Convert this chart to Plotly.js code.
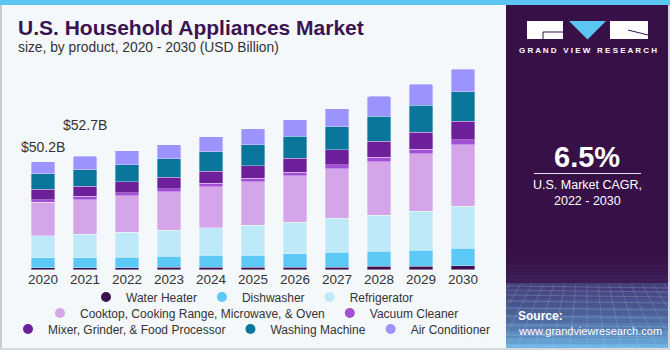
<!DOCTYPE html>
<html>
<head>
<meta charset="utf-8">
<script src="https://cdn.plot.ly/plotly-3.0.1.min.js"></script>
<style>
  html, body { margin: 0; padding: 0; background: #f4f8fb; }
  #chart { width: 670px; height: 350px; }
</style>
</head>
<body>
<div id="chart"></div>
<script>
// ---- Data (USD Billion) ----
const years = ['2020','2021','2022','2023','2024','2025','2026','2027','2028','2029','2030'];
const waterHeater   = [0.85, 0.9, 1.0, 1.1, 1.1, 1.15, 1.2, 1.25, 1.55, 1.7, 1.8];
const dishwasher    = [4.6, 4.7, 4.7, 5.1, 5.5, 5.6, 6.2, 6.8, 6.9, 7.4, 8.1];
const refrigerator  = [10.2, 10.8, 11.7, 12.1, 12.8, 13.9, 14.7, 15.8, 16.8, 18.0, 19.5];
const cooktop       = [15.6, 16.1, 16.9, 17.8, 19.0, 20.2, 21.5, 23.0, 24.9, 26.6, 28.5];
const vacuum        = [1.25, 1.5, 1.5, 1.55, 1.7, 1.6, 1.7, 1.85, 2.0, 2.2, 2.3];
const mixer         = [4.8, 4.8, 5.1, 5.2, 5.6, 5.9, 6.5, 7.0, 7.4, 8.0, 8.8];
const washing       = [7.3, 7.6, 7.9, 8.7, 9.0, 9.7, 10.2, 10.7, 11.6, 12.5, 13.5];
const airCond       = [5.6, 6.3, 6.4, 6.5, 7.0, 7.3, 7.6, 8.35, 9.3, 9.7, 10.5];
const labelYears    = ['2020', '2021'];
const labelTexts    = ['$50.2B', '$52.7B'];

const seriesNames = ['Water Heater','Dishwasher','Refrigerator','Cooktop, Cooking Range, Microwave, & Oven','Vacuum Cleaner','Mixer, Grinder, & Food Processor','Washing Machine','Air Conditioner'];
const seriesData  = [waterHeater, dishwasher, refrigerator, cooktop, vacuum, mixer, washing, airCond];
const colors      = ['#3a1050','#5bc8f5','#bde9f8','#d4a6e9','#a24fd6','#6e1f9a','#0a769c','#9b94fe'];
const legendOf    = ['legend','legend','legend','legend2','legend2','legend3','legend3','legend3'];

const W = 670, H = 350;
const px = x => x / W;
const py = y => 1 - y / H;

const traces = [];
seriesData.forEach((vals, i) => {
  traces.push({
    type: 'bar', x: years, y: vals, name: seriesNames[i],
    marker: { color: colors[i], line: { color: 'rgba(255,255,255,0.55)', width: 0.6 } },
    showlegend: false, legendgroup: 'g' + i, hoverinfo: 'skip'
  });
});
// legend proxies (circle symbols)
seriesData.forEach((vals, i) => {
  traces.push({
    type: 'scatter', mode: 'markers', x: [null], y: [null], name: seriesNames[i],
    marker: { color: colors[i], size: 10, symbol: 'circle' },
    showlegend: true, legend: legendOf[i], legendgroup: 'g' + i, hoverinfo: 'skip'
  });
});

const totals = years.map((_, j) => seriesData.reduce((s, arr) => s + arr[j], 0));

const shapes = [
  { type: 'rect', xref: 'paper', yref: 'paper', x0: 0, x1: 1, y0: py(5), y1: 1, fillcolor: '#5cc6f2', line: { width: 0 }, layer: 'below' },
  { type: 'rect', xref: 'paper', yref: 'paper', x0: 0, x1: px(2), y0: 0, y1: py(5), fillcolor: '#c9ccd2', line: { width: 0 }, layer: 'below' },
  { type: 'rect', xref: 'paper', yref: 'paper', x0: 0, x1: 1, y0: 0, y1: py(348), fillcolor: '#d5d8de', line: { width: 0 }, layer: 'below' },
  { type: 'rect', xref: 'paper', yref: 'paper', x0: px(506), x1: px(668), y0: py(348), y1: py(5), fillcolor: '#371047', line: { width: 0 }, layer: 'below' }
];
// gradient bands at the panel bottom
const bandStops = [
  [255, 265, '#381349'], [265, 275, '#3a174f'], [275, 283, '#3c1d55'],
  [283, 291, '#45407a'], [291, 299, '#474a84'], [299, 307, '#49548d'], [307, 315, '#4c5f97'],
  [315, 323, '#506ca3'], [323, 331, '#567bb0'], [331, 338, '#5d8cc0'], [338, 344, '#65a0d2'], [344, 348, '#6cb4e2']
];
bandStops.forEach(([y0, y1, c]) => {
  shapes.push({ type: 'rect', xref: 'paper', yref: 'paper', x0: px(506), x1: px(668), y0: py(y1), y1: py(y0), fillcolor: c, line: { width: 0 }, layer: 'below' });
});
// faint perspective grid texture
[286, 290, 295, 301, 308, 316, 325, 335, 346].forEach(y => {
  shapes.push({ type: 'line', xref: 'paper', yref: 'paper', x0: px(506), x1: px(668), y0: py(y), y1: py(y + 2), line: { color: 'rgba(210,225,255,0.22)', width: 1 }, layer: 'below' });
});
for (let k = 0; k < 15; k++) {
  const xt = 510 + k * 11;
  const xb = 587 + (xt - 587) * 1.6;
  shapes.push({ type: 'line', xref: 'paper', yref: 'paper', x0: px(xt), x1: px(xb), y0: py(284), y1: py(348), line: { color: 'rgba(210,225,255,0.18)', width: 1 }, layer: 'below' });
}
// cover grid overflow beyond panel edges
shapes.push({ type: 'rect', xref: 'paper', yref: 'paper', x0: px(668), x1: 1, y0: 0, y1: py(5), fillcolor: '#d5d8de', line: { width: 0 }, layer: 'below' });
shapes.push({ type: 'rect', xref: 'paper', yref: 'paper', x0: px(488), x1: px(506), y0: 0, y1: py(280), fillcolor: '#f4f8fb', line: { width: 0 }, layer: 'below' });
shapes.push({ type: 'rect', xref: 'paper', yref: 'paper', x0: px(488), x1: px(668), y0: 0, y1: py(348), fillcolor: '#d5d8de', line: { width: 0 }, layer: 'below' });
// logo blocks
shapes.push({ type: 'rect', xref: 'paper', yref: 'paper', x0: px(527), x1: px(563), y0: py(39), y1: py(21), fillcolor: '#ffffff', line: { width: 0 } });
shapes.push({ type: 'line', xref: 'paper', yref: 'paper', x0: px(543), x1: px(563), y0: py(32), y1: py(32), line: { color: '#371047', width: 1 } });
shapes.push({ type: 'line', xref: 'paper', yref: 'paper', x0: px(543), x1: px(543), y0: py(32), y1: py(39), line: { color: '#371047', width: 1 } });
shapes.push({ type: 'path', xref: 'paper', yref: 'paper', path: `M ${px(569)} ${py(21)} L ${px(606)} ${py(21)} L ${px(587.5)} ${py(39.5)} Z`, fillcolor: '#5cc6f2', line: { width: 0 } });
shapes.push({ type: 'rect', xref: 'paper', yref: 'paper', x0: px(610), x1: px(648), y0: py(39), y1: py(21), fillcolor: '#ffffff', line: { width: 0 } });
shapes.push({ type: 'line', xref: 'paper', yref: 'paper', x0: px(628), x1: px(648), y0: py(30), y1: py(35), line: { color: '#371047', width: 1 } });
// divider line under 6.5%
shapes.push({ type: 'line', xref: 'paper', yref: 'paper', x0: px(534), x1: px(641), y0: py(173.5), y1: py(173.5), line: { color: '#e8e4ee', width: 1.2 } });

const F = 'Liberation Sans, Arial, sans-serif';
const annotations = [
  { xref: 'paper', yref: 'paper', x: px(16), y: py(28), xanchor: 'left', yanchor: 'middle', showarrow: false,
    text: '<b>U.S. Household Appliances Market</b>', font: { family: F, size: 21, color: '#3a1450' } },
  { xref: 'paper', yref: 'paper', x: px(16), y: py(48), xanchor: 'left', yanchor: 'middle', showarrow: false,
    text: 'size, by product, 2020 - 2030 (USD Billion)', font: { family: F, size: 13.8, color: '#333333' } },
  { xref: 'paper', yref: 'paper', x: px(587.5), y: py(50.5), xanchor: 'center', yanchor: 'middle', showarrow: false,
    text: '<b>G R A N D   V I E W   R E S E A R C H</b>', font: { family: F, size: 8, color: '#ffffff' } },
  { xref: 'paper', yref: 'paper', x: px(587), y: py(157), xanchor: 'center', yanchor: 'middle', showarrow: false,
    text: '<b>6.5%</b>', font: { family: F, size: 29, color: '#ffffff' } },
  { xref: 'paper', yref: 'paper', x: px(587), y: py(185), xanchor: 'center', yanchor: 'middle', showarrow: false,
    text: 'U.S. Market CAGR,', font: { family: F, size: 12.5, color: '#ffffff' } },
  { xref: 'paper', yref: 'paper', x: px(587), y: py(201), xanchor: 'center', yanchor: 'middle', showarrow: false,
    text: '2022 - 2030', font: { family: F, size: 12.5, color: '#ffffff' } },
  { xref: 'paper', yref: 'paper', x: px(516), y: py(316), xanchor: 'left', yanchor: 'middle', showarrow: false,
    text: '<b>Source:</b>', font: { family: F, size: 12, color: '#ffffff' } },
  { xref: 'paper', yref: 'paper', x: px(516), y: py(331), xanchor: 'left', yanchor: 'middle', showarrow: false,
    text: 'www.grandviewresearch.com', font: { family: F, size: 11, color: '#ffffff' } }
];
const labelShift = [5, 21];
labelYears.forEach((yr, i) => {
  const j = years.indexOf(yr);
  annotations.push({ xref: 'x', yref: 'y', x: j, y: totals[j], yshift: labelShift[i], xanchor: 'center', yanchor: 'bottom',
    showarrow: false, text: labelTexts[i], font: { family: F, size: 14, color: '#333333' } });
});

const legendBase = { orientation: 'h', xref: 'paper', yref: 'paper', x: px(252), xanchor: 'center', yanchor: 'middle',
  bgcolor: 'rgba(0,0,0,0)', font: { family: F, size: 12, color: '#333333' }, itemwidth: 30, traceorder: 'normal' };

const layout = {
  width: W, height: H,
  margin: { l: 0, r: 0, t: 0, b: 0, pad: 0 },
  paper_bgcolor: '#f4f8fb', plot_bgcolor: 'rgba(0,0,0,0)',
  barmode: 'stack', bargap: 0.43, barcornerradius: 2,
  showlegend: true,
  xaxis: { type: 'category', domain: [px(22), px(484)], range: [-0.5, 10.5], showgrid: false, zeroline: false, showline: false,
    ticks: '', tickfont: { family: F, size: 13.5, color: '#333333' }, fixedrange: true },
  yaxis: { range: [0, 100], domain: [py(269.7), py(54.2)], visible: false, fixedrange: true },
  legend: Object.assign({}, legendBase, { y: py(297) }),
  legend2: Object.assign({}, legendBase, { y: py(313) }),
  legend3: Object.assign({}, legendBase, { y: py(329) }),
  shapes: shapes,
  annotations: annotations,
  hovermode: false
};

Plotly.newPlot('chart', traces, layout, { displayModeBar: false, staticPlot: true });
</script>
</body>
</html>
